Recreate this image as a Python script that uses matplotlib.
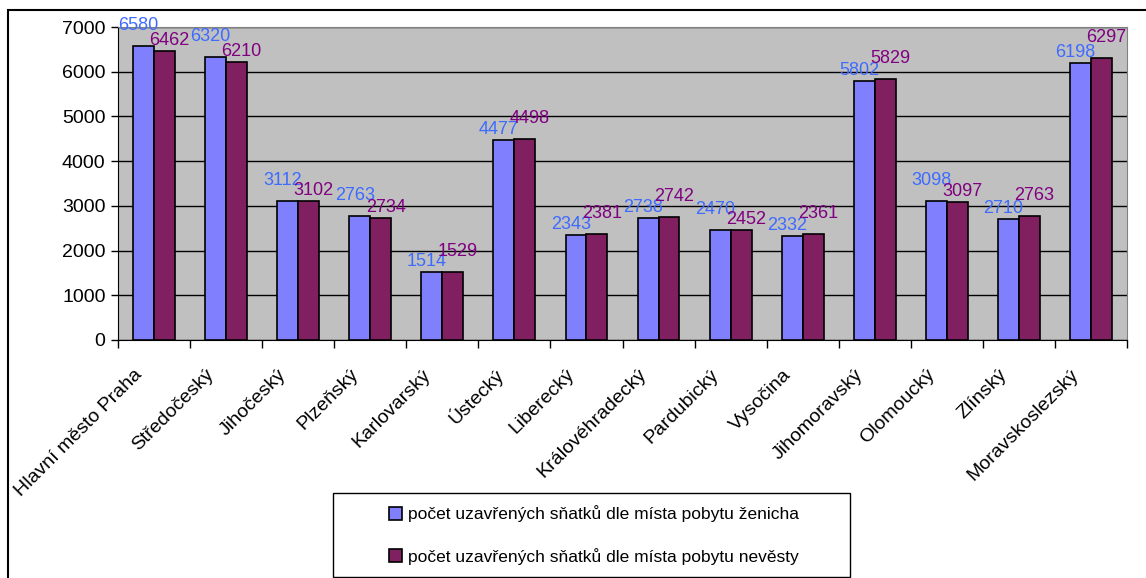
import numpy as np
import matplotlib
matplotlib.use("Agg")
import matplotlib.pyplot as plt
from matplotlib.patches import Rectangle

plt.rcParams['font.family'] = ['Liberation Sans', 'DejaVu Sans']

# -------------------------------
# data
# -------------------------------
regions = ["Hlavní město Praha", "Středočeský", "Jihočeský", "Plzeňský",
           "Karlovarský", "Ústecký", "Liberecký", "Královéhradecký",
           "Pardubický", "Vysočina", "Jihomoravský", "Olomoucký",
           "Zlínský", "Moravskoslezský"]
zenich = [6580, 6320, 3112, 2763, 1514, 4477, 2343, 2738, 2470, 2332,
          5802, 3098, 2710, 6198]
nevesta = [6462, 6210, 3102, 2734, 1529, 4498, 2381, 2742, 2452, 2361,
           5829, 3097, 2763, 6297]
series_names = ["počet uzavřených sňatků dle místa pobytu ženicha",
                "počet uzavřených sňatků dle místa pobytu nevěsty"]

# -------------------------------
# figure
# -------------------------------
fig = plt.figure(figsize=(11.46, 5.78), dpi=100)
ax = fig.add_axes([118 / 1146, 1 - 340 / 578, (1127 - 118) / 1146, (340 - 27) / 578])
ax.set_facecolor("#C0C0C0")

x = np.arange(len(regions))
w = 0.29
b1 = ax.bar(x - w / 2, zenich, w, color="#8080FF", edgecolor="black",
            linewidth=1.2, label=series_names[0], zorder=3)
b2 = ax.bar(x + w / 2, nevesta, w, color="#802060", edgecolor="black",
            linewidth=1.2, label=series_names[1], zorder=3)

# data labels - the taller bar of each pair gets its label lifted higher
for xi, v1, v2 in zip(x, zenich, nevesta):
    up1, up2 = (12, 2) if v1 >= v2 else (2, 12)
    ax.annotate(str(v1), (xi - w / 2, v1), xytext=(-5, up1), textcoords="offset pixels",
                ha="center", va="bottom", fontsize=13, color="#3D6BFF", zorder=4)
    ax.annotate(str(v2), (xi + w / 2, v2), xytext=(5, up2), textcoords="offset pixels",
                ha="center", va="bottom", fontsize=13, color="#800080", zorder=4)

ax.set_xlim(-0.5, len(regions) - 0.5)
ax.set_ylim(0, 7000)
ax.set_yticks(range(0, 7001, 1000))
ax.yaxis.grid(True, color="black", linewidth=1)
ax.set_axisbelow(True)
ax.tick_params(axis="y", labelsize=14, direction="out", length=5, width=1, pad=4)

# category ticks between groups, labels near group centres
ax.set_xticks(np.arange(-0.5, len(regions)), minor=False)
ax.set_xticklabels([])
ax.set_xticks(x - 0.2, minor=True)
ax.set_xticklabels(regions, minor=True, rotation=45, ha="right", va="center",
                   rotation_mode="anchor", fontsize=14)
ax.tick_params(axis="x", which="major", direction="out", length=6, width=1)
ax.tick_params(axis="x", which="minor", length=0, pad=23)

for s in ["top", "right"]:
    ax.spines[s].set_color("#808080")
for s in ["left", "bottom"]:
    ax.spines[s].set_color("black")

# outer chart border
fig.patches.append(Rectangle((8 / 1146, -0.05), 1.1, 1 - 10 / 578 + 0.05,
                             transform=fig.transFigure, fill=False,
                             edgecolor="black", linewidth=1.5))

# legend box
fig.patches.append(Rectangle((333 / 1146, 1 - 577 / 578), (850 - 333) / 1146,
                             (577 - 493) / 578, transform=fig.transFigure,
                             fill=False, edgecolor="black", linewidth=1))
fig.legend(handles=[b1, b2], loc="center",
           bbox_to_anchor=(594 / 1146, 1 - 535 / 578), frameon=False,
           fontsize=12.5, handlelength=0.75, handleheight=0.75, handletextpad=0.35,
           labelspacing=1.45)

fig.savefig("out.png", dpi=100)
